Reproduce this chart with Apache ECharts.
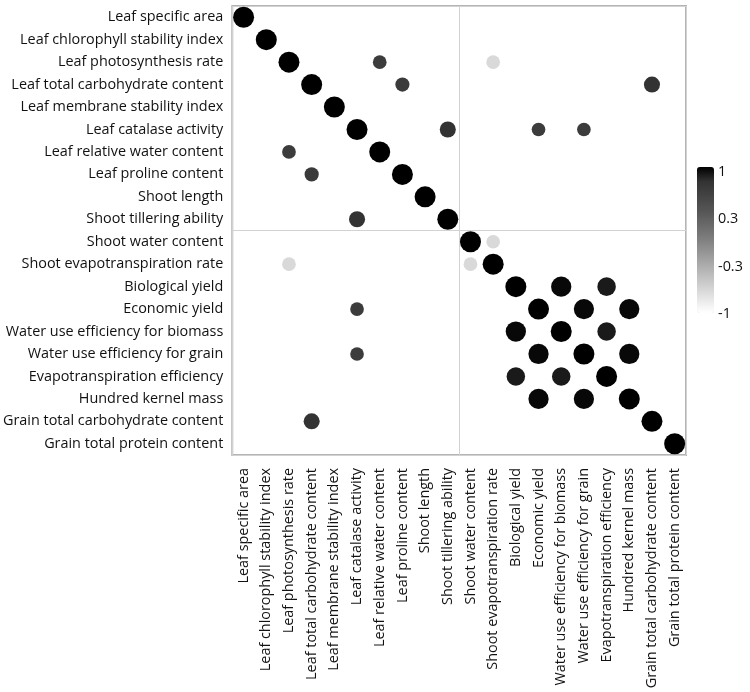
<!DOCTYPE html>
<html><head><meta charset="utf-8">
<script src="https://cdn.jsdelivr.net/npm/echarts@6/dist/echarts.min.js"></script>
<style>html,body{margin:0;padding:0;background:#fff}#c{width:750px;height:692px}</style>
</head><body><div id="c"></div>
<script>
const variables = [
  'Leaf specific area','Leaf chlorophyll stability index','Leaf photosynthesis rate',
  'Leaf total carbohydrate content','Leaf membrane stability index','Leaf catalase activity',
  'Leaf relative water content','Leaf proline content','Shoot length','Shoot tillering ability',
  'Shoot water content','Shoot evapotranspiration rate','Biological yield','Economic yield',
  'Water use efficiency for biomass','Water use efficiency for grain',
  'Evapotranspiration efficiency','Hundred kernel mass',
  'Grain total carbohydrate content','Grain total protein content'
];
// significant correlations: [row, col, r] (diagonal r = 1)
const diagonal = variables.map((v, i) => [i, i, 1]);
const offDiagonal = [
  [2,6,0.7],[6,2,0.7],
  [2,11,-0.7],[11,2,-0.7],
  [3,7,0.72],[7,3,0.72],
  [3,18,0.8],[18,3,0.8],
  [5,9,0.8],[9,5,0.8],
  [5,13,0.7],[13,5,0.7],
  [5,15,0.7],[15,5,0.7],
  [10,11,-0.7],[11,10,-0.7],
  [12,14,0.97],[14,12,0.97],[12,16,0.9],[16,12,0.9],[14,16,0.9],[16,14,0.9],
  [13,15,0.97],[15,13,0.97],[13,17,0.97],[17,13,0.97],[15,17,0.97],[17,15,0.97]
];
const colorbarTicks = ['-1','-0.3','0.3','1'];
const groupBoundary = 10; // divider between variable groups

const points = diagonal.concat(offDiagonal).map(d => [d[1], d[0], d[2]]);

const chart = echarts.init(document.getElementById('c'), null, {renderer:'canvas'});
const labelFont = {fontFamily:'Open Sans', fontSize:14.4, color:'#111'};
const hiddenAxis = {axisLine:{show:false}, axisTick:{show:false}, axisLabel:{show:false}};
chart.setOption({
  animation:false,
  backgroundColor:'#fff',
  grid:[
    {left:232, top:6, width:454, height:449, show:true, borderColor:'#b4b4b4', borderWidth:2, containLabel:false, z:0},
    {left:697, top:172, width:17, height:142, show:false}
  ],
  xAxis:[
    {type:'category', data:variables, gridIndex:0, boundaryGap:true,
     axisLine:{show:false}, axisTick:{show:false},
     axisLabel:Object.assign({rotate:90, interval:0, margin:13}, labelFont),
     splitLine:{show:false}},
    {type:'value', gridIndex:1, show:false},
    Object.assign({type:'value', gridIndex:0, min:0, max:variables.length, interval:groupBoundary,
     splitLine:{show:true, lineStyle:{color:'#d2d2d2', width:1}}}, hiddenAxis)
  ],
  yAxis:[
    {type:'category', data:variables, gridIndex:0, inverse:true, boundaryGap:true,
     axisLine:{show:false}, axisTick:{show:false},
     axisLabel:Object.assign({interval:0, margin:9}, labelFont),
     splitLine:{show:false}},
    {type:'category', data:colorbarTicks, gridIndex:1, boundaryGap:false, position:'right',
     axisLine:{show:false}, axisTick:{show:false}, splitLine:{show:false},
     axisLabel:{interval:0, margin:4, fontFamily:'Open Sans', fontSize:14.4, color:'#111'}},
    Object.assign({type:'value', gridIndex:0, min:0, max:variables.length, interval:groupBoundary,
     splitLine:{show:true, lineStyle:{color:'#d2d2d2', width:1}}}, hiddenAxis)
  ],
  visualMap:{
    type:'continuous', min:-1, max:1, dimension:2, seriesIndex:0,
    calculable:false, hoverLink:false, padding:0,
    left:697, top:167, itemWidth:17, itemHeight:146,
    text:null,
    inRange:{color:['#ffffff','#e6e6e6','#cccccc','#b3b3b3','#999999','#808080','#6a6a6a','#555555','#444444','#333333','#000000']}
  },
  series:[{
    type:'scatter', xAxisIndex:0, yAxisIndex:0,
    data:points,
    symbolSize:(v)=>21*Math.pow(Math.abs(v[2]),1.2),
    itemStyle:{opacity:1}, z:3
  }]
});
</script></body></html>
